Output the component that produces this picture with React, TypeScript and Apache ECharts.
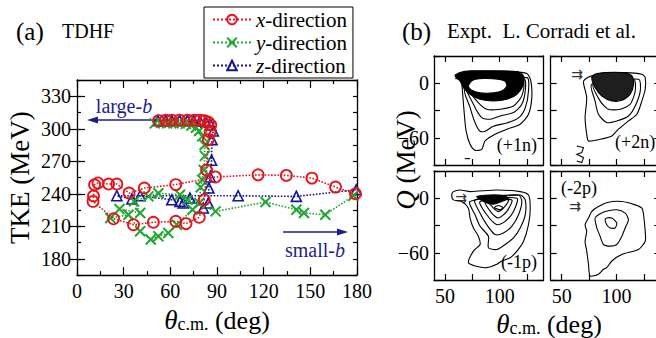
import React, { useEffect, useRef } from 'react';
import * as echarts from 'echarts';

const FONT = 'Liberation Serif';

// ---------- Panel (a): TDHF TKE vs theta ----------
const xDirTheta = [52.5, 57, 61, 66, 71, 75.5, 79, 82, 84.5, 86, 85.5, 84.4, 83.3, 81.8, 78.6, 70.1, 63.5, 49.1, 36.3, 23.5, 10.3, 10.6, 11.3, 13.5, 20.3, 25.6, 33.5, 43.3, 63.5, 89.0, 116.4, 134.6, 151.0, 166.2, 179.0];
const xDirTKE = [307.5, 308, 308, 308, 308, 308, 308, 307.5, 306, 303.5, 297, 290, 262, 234.5, 218.3, 212.5, 214.6, 213.7, 211.5, 217, 233, 238, 248.3, 250, 249, 249, 240.7, 245.3, 248.5, 255.5, 257.5, 257, 254.5, 246.2, 240];

const yDirTheta = [50, 54, 58, 62, 66, 70, 73.5, 76.5, 78.5, 80.5, 82, 82.2, 81.5, 80.5, 79.5, 78.6, 74.3, 64.1, 58.7, 52.3, 47.4, 40.6, 33.1, 21.4, 27.3, 40.6, 36.7, 45.9, 52.3, 66.2, 71.1, 89.1, 121.2, 141, 145.9, 159.6, 177.7];
const yDirTKE = [305, 305.5, 305, 305, 305, 304.5, 303, 301, 298, 293, 285, 275, 262, 253, 246, 231.5, 225.3, 211.5, 203.9, 200.8, 197.8, 205.4, 220.7, 217.7, 226, 222.3, 233, 237.6, 240.5, 239.1, 234.5, 223.8, 232.4, 225.3, 222.3, 220.7, 238.2];

const zDirTheta = [52, 57, 61, 66, 71, 75, 79, 83, 86, 87.6, 86.8, 86.5, 85.6, 84.8, 84.4, 81.2, 72.6, 68.3, 66.2, 60.9, 40.6, 35.3, 25.6, 103.6, 141, 179.5];
const zDirTKE = [307.5, 307.5, 307.5, 307.5, 307.5, 307.5, 307, 306, 303.5, 298, 290, 271, 255.5, 245.3, 231.5, 226.9, 236.1, 231.5, 233, 234.5, 238.2, 235.2, 238.2, 238.2, 237.6, 243.7];

const seriesNames = ['x-direction', 'y-direction', 'z-direction'];
const tkeMajorTicks = [180, 210, 240, 270, 300, 330];

// ---------- Panel (b): experimental Q vs theta contours ----------
// (+1n)
const n1Outer = [[65.3, 6.2], [66.2, -12.1], [67.7, -34.1], [69.3, -52.5], [72.9, -67.2], [77.5, -73.8], [83.6, -72.7], [86.6, -63.5], [95.8, -56.1], [106.5, -50.6], [118.7, -45.1], [126.3, -34.1], [129.3, -15.8], [128.4, 2.6], [124.8, 10.6], [109.5, 12.8], [82.1, 12.8], [66.8, 10.6]];
const n1Loop2 = [[68.4, -4.8], [73, -26.8], [77.6, -43.7], [82.1, -52.8], [86.7, -52.8], [94.3, -47.3], [106.5, -43.7], [117.2, -38.2], [123.3, -27.2], [126.3, -8.4], [124.8, 6.2]];
const n1Loop3 = [[69.9, -2.9], [76, -23.1], [83.6, -37.8], [91.2, -39.6], [100.4, -36], [112.6, -32.3], [120.2, -23.1], [123.3, -8.4], [122.3, 4.4]];
const n1Loop4 = [[71.4, -4.8], [79, -19.4], [88.2, -28.6], [100.4, -28.6], [112.6, -25], [120.2, -13.9], [121.1, 0.7]];
const n1Dense = [[59.2, 8.1], [63.8, 2.6], [66.8, -4.8], [72.9, -12.1], [82.1, -17.6], [94.3, -19.4], [106.5, -17.6], [115.7, -12.1], [121.8, -1.1], [121.8, 8.1], [115.7, 12.8], [97.4, 13.6], [73, 13.6], [63.8, 11.7]];
const n1Hole = [[71.4, -2.9], [74, -7.4], [82.1, -10.6], [94.3, -10.6], [102.4, -8.2], [106.5, -2.9], [105, 2.1], [98.3, 4.5], [85.1, 5.2], [75.4, 3.4]];
const n1Dash = [[68, -83], [73, -83]];
// (+2n)
const n2Outer = [[69.9, 0.7], [72.9, -15.8], [71.4, -37.8], [72.9, -56.1], [74.5, -63.5], [85.1, -61.7], [95.8, -58], [101.9, -50.6], [111, -41.5], [118.7, -34.1], [123.3, -19.4], [126.3, -6.6], [126.3, 6.2], [123.3, 9.9], [108, 11.7], [89.7, 10.6], [77.5, 8.1], [71.4, 4.4]];
const n2Loop2 = [[77.5, -1.1], [80.5, -19.4], [83.6, -34.1], [91.2, -43.3], [100.4, -41.5], [111, -36], [117.2, -25], [121.8, -8.4], [120.2, 4.4]];
const n2Loop3 = [[79, -1.1], [85.1, -19.4], [92.7, -28.6], [103.4, -28.6], [112.6, -23.1], [117.2, -8.4], [115.7, 4.4]];
const n2Dense = [[77.5, 6.2], [80.5, -4.8], [86.7, -14], [95.8, -19.4], [105, -18.8], [112.6, -12.1], [115.7, -1.1], [114.2, 8.1], [105, 11.7], [89.7, 11.7], [80.5, 9.9]];
const n2Squiggle = [[63.8, -69], [69.9, -70.8], [68.4, -76.3], [63.8, -78.2], [69.9, -81.8], [68.4, -87.3], [63.8, -85.5]];
// (-1p)
const p1Outer = [[56.2, 3.6], [57.7, -1.8], [65.3, -3.6], [71.4, -10.9], [72.9, -21.8], [76, -32.7], [80.5, -41.8], [82.1, -50.9], [76, -58.2], [71.4, -70.9], [77.5, -74.5], [88.2, -76.4], [97.4, -72.7], [102, -69.1], [109.6, -65.5], [115.7, -58.2], [121.8, -47.3], [126.3, -29.1], [127.9, -10.9], [126.3, 3.6], [118.7, 7.3], [97.4, 9.1], [73, 7.3], [63.8, 9.1], [57.7, 7.3]];
const p1Loop2 = [[72.9, -3.6], [77.5, -18.2], [82.1, -30.9], [89.7, -41.8], [89.7, -54.5], [97.4, -56.4], [105, -50.9], [112.6, -43.6], [118.7, -32.7], [123.3, -18.2], [123.3, -1.8], [118.7, 3.6]];
const p1Loop3 = [[77.5, -1.8], [82.1, -16.4], [88.2, -29.1], [95.8, -40], [103.4, -38.2], [111, -30.9], [117.2, -18.2], [120.2, -3.6], [117.2, 3.6]];
const p1Loop4 = [[82.1, -3.6], [88.2, -18.2], [97.4, -29.1], [105, -25.5], [112.6, -14.5], [115.7, 0]];
const p1Loop5 = [[86.7, -3.6], [92.7, -16.4], [98.8, -21.8], [106.5, -14.5], [111, -1.8]];
const p1Loop6 = [[89.7, -2.9], [94.3, -10.9], [98.8, -14.5], [103.4, -10.9], [108, -1.8]];
const p1Dense = [[79, 1.8], [86.7, -4.4], [94.3, -6.5], [101.9, -3.6], [108, 0], [103.4, 2.9], [91.2, 3.6]];
const p1Small = [[95.2, -10.2], [100.4, -12.7], [102.8, -10.2], [98.8, -8]];
// (-2p)
const p2Outer = [[74.5, -21.8], [71.4, -29.1], [72.9, -36.4], [71.4, -47.3], [72.9, -58.2], [74.5, -72.7], [76, -85.5], [83.6, -83.6], [88.2, -78.2], [91.2, -76.4], [95.8, -69.1], [104.9, -61.8], [120.2, -56.4], [126.3, -47.3], [126.3, -36.4], [124.8, -18.2], [123.3, -10.9], [117.2, -7.3], [105, -3.6], [92.7, -4.4], [83.6, -9.1], [77.5, -14.5]];
const p2Loop2 = [[80.5, -21.8], [82.1, -32.7], [85.1, -41.8], [88.2, -50.9], [94.3, -52.7], [100.4, -50.9], [105, -41.8], [108, -32.7], [111, -23.6], [108, -16.4], [100.4, -12.7], [89.7, -14.5], [83.6, -18.2]];
const p2Loop3 = [[89.7, -23.6], [91.2, -29.1], [94.3, -32.7], [98.8, -32.7], [100.4, -27.3], [95.8, -21.8], [91.2, -21.8]];

const bXTicks = [50, 75, 100, 125];
const bXLabels = [50, 100];
const bYLabels = [0, -60];

type Shape = { pts: number[][]; kind: 'line' | 'fill' | 'hole' | 'open' | 'grey' };

const panels: { shapes: Shape[] }[] = [
  { shapes: [
    { pts: n1Outer, kind: 'line' }, { pts: n1Loop2, kind: 'line' }, { pts: n1Loop3, kind: 'line' }, { pts: n1Loop4, kind: 'line' },
    { pts: n1Dense, kind: 'fill' }, { pts: n1Hole, kind: 'hole' }, { pts: n1Dash, kind: 'open' },
  ] },
  { shapes: [
    { pts: n2Outer, kind: 'line' }, { pts: n2Loop2, kind: 'line' }, { pts: n2Loop3, kind: 'line' },
    { pts: n2Dense, kind: 'grey' }, { pts: n2Squiggle, kind: 'open' },
  ] },
  { shapes: [
    { pts: p1Outer, kind: 'line' }, { pts: p1Loop2, kind: 'line' }, { pts: p1Loop3, kind: 'line' }, { pts: p1Loop4, kind: 'line' },
    { pts: p1Loop5, kind: 'line' }, { pts: p1Loop6, kind: 'line' }, { pts: p1Dense, kind: 'fill' }, { pts: p1Small, kind: 'line' },
  ] },
  { shapes: [
    { pts: p2Outer, kind: 'line' }, { pts: p2Loop2, kind: 'line' }, { pts: p2Loop3, kind: 'line' },
  ] },
];

const zip = (a: number[], b: number[]) => a.map((v, i) => [v, b[i]]);

function buildOption() {
  const axisLine = { show: true, onZero: false, lineStyle: { color: '#000', width: 1.3 } };
  const tickStyle = { color: '#000', width: 1.2 };
  const lbl = { color: '#000', fontSize: 20, fontFamily: FONT };

  const grids: any[] = [
    { left: 77, top: 80, width: 280, height: 196 },
    { left: 434, top: 56, width: 109.5, height: 109 },
    { left: 550.7, top: 56, width: 109.5, height: 109 },
    { left: 434, top: 171, width: 109.5, height: 109 },
    { left: 550.7, top: 171, width: 109.5, height: 109 },
  ];

  const titleRich = {
    th: { fontSize: 27, fontStyle: 'italic', fontFamily: FONT, lineHeight: 30, verticalAlign: 'bottom', color: '#000' },
    sub: { fontSize: 18, fontFamily: FONT, lineHeight: 16, verticalAlign: 'bottom', color: '#000' },
    n: { fontSize: 26, fontFamily: FONT, lineHeight: 30, verticalAlign: 'bottom', color: '#000' },
  };

  const xAxes: any[] = [
    {
      gridIndex: 0, type: 'value', min: 0, max: 180, interval: 30, position: 'bottom',
      axisLine, axisTick: { inside: true, length: 8, lineStyle: tickStyle },
      minorTick: { show: true, splitNumber: 2, length: 4, lineStyle: tickStyle },
      axisLabel: { ...lbl, margin: 6 }, splitLine: { show: false }, minorSplitLine: { show: false },
      name: '{th|θ}{sub|c.m.}{n| (deg)}', nameLocation: 'middle', nameGap: 26,
      nameTextStyle: { color: '#000', fontFamily: FONT, rich: titleRich },
    },
    {
      gridIndex: 0, type: 'value', min: 0, max: 180, interval: 30, position: 'top',
      axisLine, axisTick: { inside: true, length: 8, lineStyle: tickStyle },
      minorTick: { show: true, splitNumber: 2, length: 4, lineStyle: tickStyle },
      axisLabel: { show: false }, splitLine: { show: false }, minorSplitLine: { show: false },
    },
  ];
  const yAxes: any[] = [
    {
      gridIndex: 0, type: 'value', min: 165, max: 345, interval: 15, position: 'left',
      axisLine, axisTick: { inside: true, length: 4, lineStyle: tickStyle },
      axisLabel: { ...lbl, margin: 6, formatter: (v: number) => (tkeMajorTicks.includes(v) ? String(v) : '') },
      splitLine: { show: false },
      name: 'TKE (MeV)', nameLocation: 'middle', nameGap: 44,
      nameTextStyle: { fontSize: 27, fontFamily: FONT, color: '#000' },
    },
    {
      gridIndex: 0, type: 'value', min: 165, max: 345, position: 'left',
      axisLine: { show: false }, axisTick: { inside: true, length: 8, lineStyle: tickStyle, customValues: tkeMajorTicks },
      axisLabel: { show: false }, splitLine: { show: false },
    },
    {
      gridIndex: 0, type: 'value', min: 165, max: 345, interval: 15, position: 'right',
      axisLine, axisTick: { inside: true, length: 4, lineStyle: tickStyle },
      axisLabel: { show: false }, splitLine: { show: false },
    },
    {
      gridIndex: 0, type: 'value', min: 165, max: 345, position: 'right',
      axisLine: { show: false }, axisTick: { inside: true, length: 8, lineStyle: tickStyle, customValues: tkeMajorTicks },
      axisLabel: { show: false }, splitLine: { show: false },
    },
  ];

  const series: any[] = [];

  for (let g = 1; g <= 4; g++) {
    const bottomRow = g >= 3;
    const leftCol = g === 1 || g === 3;
    const xi = xAxes.length;
    xAxes.push({
      gridIndex: g, type: 'value', min: 40, max: 140, position: 'bottom', axisLine,
      axisTick: { inside: true, length: 6, lineStyle: tickStyle, customValues: bXTicks },
      axisLabel: bottomRow ? { ...lbl, margin: 6, customValues: bXLabels } : { show: false },
      splitLine: { show: false },
    });
    xAxes.push({
      gridIndex: g, type: 'value', min: 40, max: 140, position: 'top', axisLine,
      axisTick: { inside: true, length: 6, lineStyle: tickStyle, customValues: bXTicks },
      axisLabel: { show: false }, splitLine: { show: false },
    });
    const yi = yAxes.length;
    yAxes.push({
      gridIndex: g, type: 'value', min: -90, max: 30, interval: 30, position: 'left', axisLine,
      axisTick: { inside: true, length: 6, lineStyle: tickStyle },
      axisLabel: leftCol
        ? { ...lbl, margin: 5, formatter: (v: number) => (bYLabels.includes(v) ? (v < 0 ? '\u2212' + Math.abs(v) : String(v)) : '') }
        : { show: false },
      splitLine: { show: false },
    });
    yAxes.push({
      gridIndex: g, type: 'value', min: -90, max: 30, interval: 30, position: 'right', axisLine,
      axisTick: { inside: true, length: 6, lineStyle: tickStyle },
      axisLabel: { show: false }, splitLine: { show: false },
    });

    const shapes = panels[g - 1].shapes;
    series.push({
      type: 'custom', xAxisIndex: xi, yAxisIndex: yi, silent: true, clip: true,
      data: shapes.map((s) => s.pts[0]),
      renderItem: (params: any, api: any) => {
        const s = shapes[params.dataIndex];
        const pts = s.pts.map((p) => api.coord(p));
        if (s.kind === 'open') {
          return { type: 'polyline', shape: { points: pts }, style: { stroke: '#000', fill: 'none', lineWidth: 1.1 } };
        }
        const fill = s.kind === 'fill' ? '#000' : s.kind === 'grey' ? '#1e1e1e' : s.kind === 'hole' ? '#fff' : 'none';
        return { type: 'polygon', shape: { points: pts, smooth: 0.25 }, style: { stroke: '#000', fill, lineWidth: 1.1 } };
      },
    });
  }

  const red = '#e5141b';
  const green = '#21a632';
  const blue = '#13139a';

  series.unshift(
    {
      name: seriesNames[2], type: 'line', xAxisIndex: 0, yAxisIndex: 0, data: zip(zDirTheta, zDirTKE),
      symbol: 'triangle', symbolSize: 10, showAllSymbol: true,
      lineStyle: { type: 'dotted', width: 1.6, color: blue },
      itemStyle: { color: 'rgba(0,0,0,0)', borderColor: blue, borderWidth: 1.6 }, z: 3,
    },
    {
      name: seriesNames[1], type: 'line', xAxisIndex: 0, yAxisIndex: 0, data: zip(yDirTheta, yDirTKE),
      symbol: 'path://M0,0L10,10M10,0L0,10', symbolSize: 10, showAllSymbol: true,
      lineStyle: { type: 'dotted', width: 1.6, color: green },
      itemStyle: { color: 'rgba(0,0,0,0)', borderColor: green, borderWidth: 2 }, z: 4,
    },
    {
      name: seriesNames[0], type: 'line', xAxisIndex: 0, yAxisIndex: 0, data: zip(xDirTheta, xDirTKE),
      symbol: 'circle', symbolSize: 11, showAllSymbol: true,
      lineStyle: { type: 'dotted', width: 1.6, color: red },
      itemStyle: { color: 'rgba(0,0,0,0)', borderColor: red, borderWidth: 1.8 }, z: 5,
    },
  );

  const navy = '#1d1d8c';
  const t = (x: number, y: number, text: string, size: number, extra: any = {}) => ({
    type: 'text', x, y, silent: true,
    style: { text, fontSize: size, fontFamily: FONT, fill: '#000', align: 'left', verticalAlign: 'middle', ...extra },
  });
  const arrowGlyph = (x: number, y: number) => ({
    type: 'text', x, y, silent: true,
    style: { text: '\u21c9', fontSize: 14, fontFamily: 'DejaVu Sans', fill: '#333', align: 'center', verticalAlign: 'middle' },
  });
  const navyRich = {
    n: { fontSize: 20, fontFamily: FONT, fill: navy },
    i: { fontSize: 20, fontFamily: FONT, fontStyle: 'italic', fill: navy },
  };

  const graphic: any[] = [
    t(16, 31, '(a)', 25),
    t(62, 31, 'TDHF', 20),
    t(402, 31, '(b)', 25),
    t(447, 31, 'Expt.  L. Corradi et al.', 21),
    t(124, 106, '{n|large-}{i|b}', 20, { align: 'center', rich: navyRich }),
    { type: 'line', silent: true, shape: { x1: 96, y1: 120, x2: 157, y2: 120 }, style: { stroke: navy, lineWidth: 1.5 } },
    { type: 'polygon', silent: true, shape: { points: [[87, 120], [98, 116.5], [98, 123.5]] }, style: { fill: navy } },
    t(315, 250, '{n|small-}{i|b}', 20, { align: 'center', rich: navyRich }),
    { type: 'line', silent: true, shape: { x1: 283, y1: 232, x2: 338, y2: 232 }, style: { stroke: navy, lineWidth: 1.5 } },
    { type: 'polygon', silent: true, shape: { points: [[348, 232], [337, 228.5], [337, 235.5]] }, style: { fill: navy } },
    t(537, 145, '(+1n)', 18, { align: 'right' }),
    t(615, 142, '(+2n)', 18),
    t(537, 262, '(-1p)', 18, { align: 'right' }),
    t(561, 188, '(-2p)', 18),
    arrowGlyph(460, 76),
    arrowGlyph(577, 74),
    arrowGlyph(461, 198),
    arrowGlyph(575, 206),
    {
      type: 'text', x: 549, y: 322, silent: true,
      style: { text: '{th|θ}{sub|c.m.}{n| (deg)}', align: 'center', verticalAlign: 'middle', fill: '#000', rich: titleRich },
    },
    {
      type: 'text', x: 406, y: 160, rotation: Math.PI / 2, silent: true,
      style: {
        text: '{q|Q}{n| (MeV)}', align: 'center', verticalAlign: 'middle', fill: '#000',
        rich: {
          q: { fontSize: 27, fontStyle: 'italic', fontFamily: FONT, fill: '#000' },
          n: { fontSize: 27, fontFamily: FONT, fill: '#000' },
        },
      },
    },
  ];

  return {
    animation: false,
    backgroundColor: '#fff',
    textStyle: { fontFamily: FONT },
    grid: grids,
    xAxis: xAxes,
    yAxis: yAxes,
    legend: {
      data: seriesNames, orient: 'vertical', left: 204, top: 7, selectedMode: false,
      itemWidth: 38, itemHeight: 12, itemGap: 2, padding: [2, 6, 2, 8],
      borderColor: '#000', borderWidth: 1, backgroundColor: '#fff',
      textStyle: {
        fontSize: 21, fontFamily: FONT, color: '#000', lineHeight: 20,
        rich: {
          i: { fontSize: 21, fontFamily: FONT, fontStyle: 'italic', color: '#000' },
          n: { fontSize: 21, fontFamily: FONT, color: '#000' },
        },
      },
      formatter: (name: string) => `{i|${name[0]}}{n|${name.slice(1)}}`,
    },
    graphic,
    series,
  };
}

export default function App() {
  const ref = useRef<HTMLDivElement>(null);
  useEffect(() => {
    if (!ref.current) return;
    const chart = echarts.init(ref.current, null, { renderer: 'svg' });
    chart.setOption(buildOption() as any);
    return () => chart.dispose();
  }, []);
  return (
    <div style={{ position: 'fixed', left: 0, top: 0, width: 656, height: 338, overflow: 'hidden', background: '#fff' }}>
      <div ref={ref} style={{ width: 700, height: 338 }} />
    </div>
  );
}
